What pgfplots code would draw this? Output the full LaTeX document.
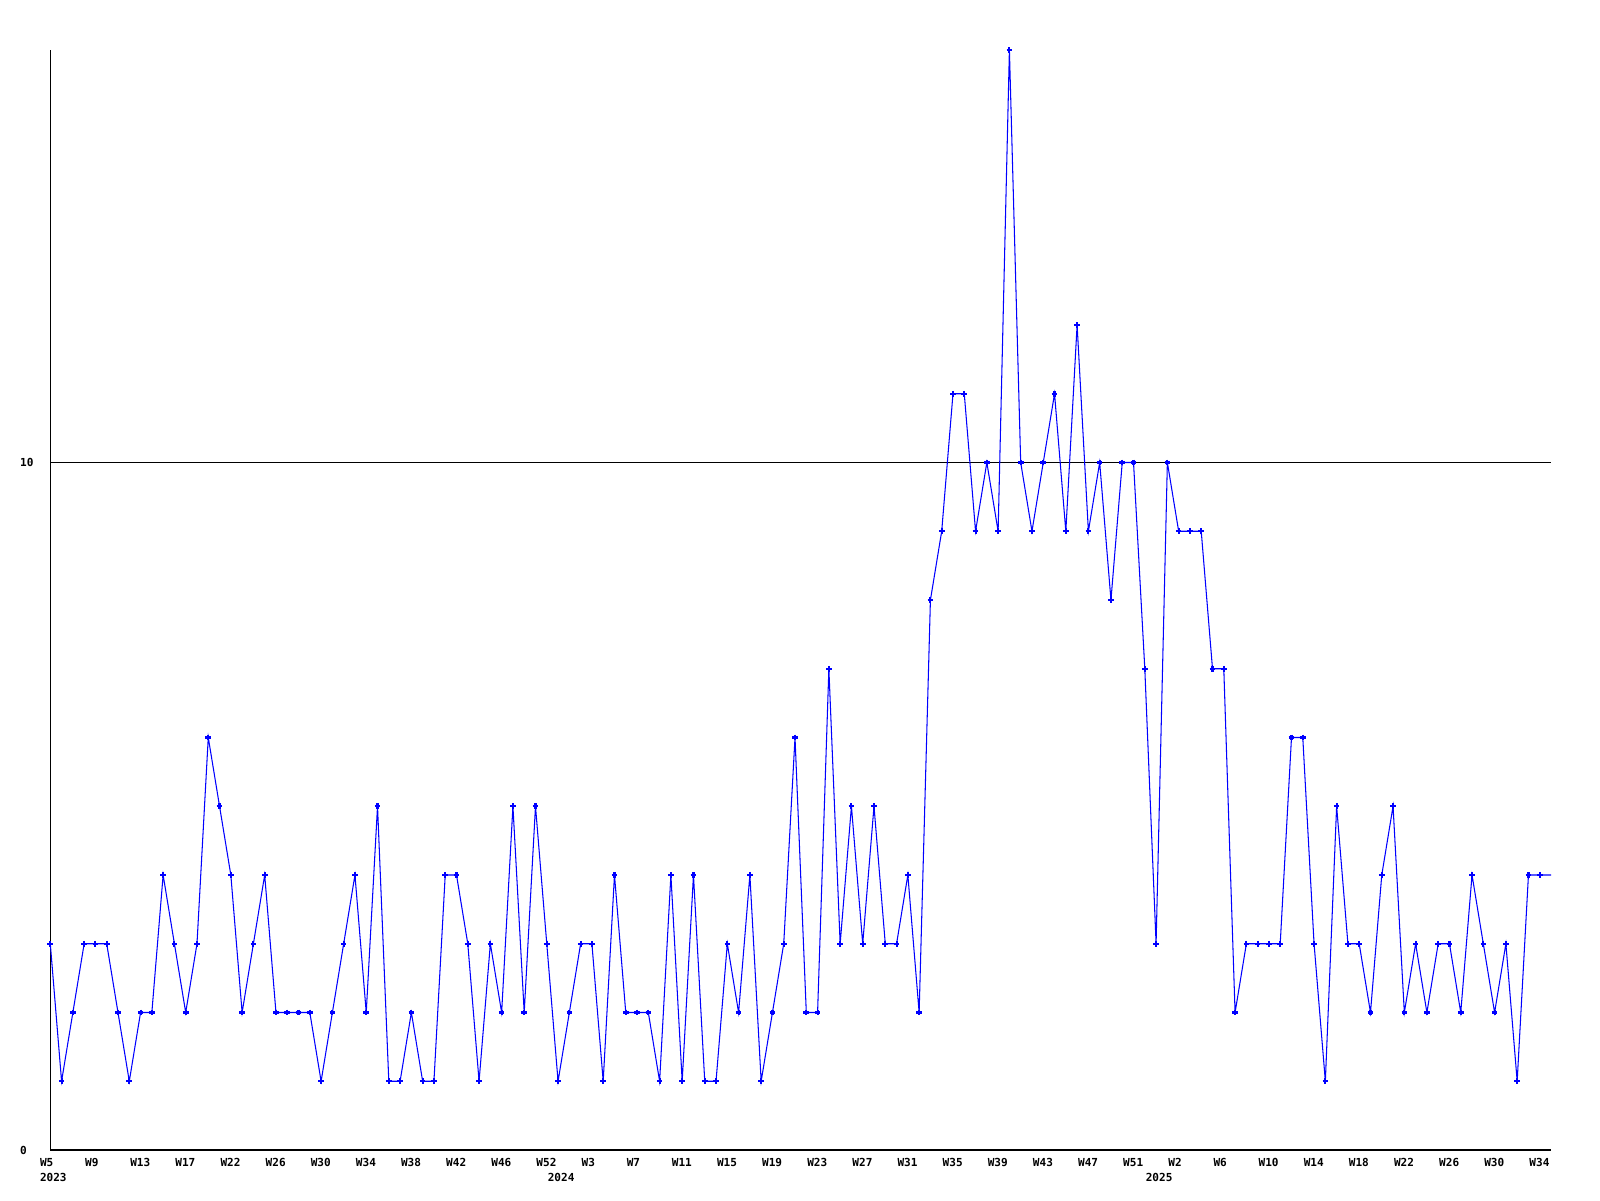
\documentclass[border=0pt]{standalone}
\usepackage{fontspec}
\setmonofont{DejaVu Sans Mono}
\usepackage{pgfplots}
\usepackage{pgfplotstable}
\pgfplotsset{compat=1.18}
\definecolor{lineblue}{RGB}{0,0,255}
\pgfplotstableread{
i v
0 3
1 1
2 2
3 3
4 3
5 3
6 2
7 1
8 2
9 2
10 4
11 3
12 2
13 3
14 6
15 5
16 4
17 2
18 3
19 4
20 2
21 2
22 2
23 2
24 1
25 2
26 3
27 4
28 2
29 5
30 1
31 1
32 2
33 1
34 1
35 4
36 4
37 3
38 1
39 3
40 2
41 5
42 2
43 5
44 3
45 1
46 2
47 3
48 3
49 1
50 4
51 2
52 2
53 2
54 1
55 4
56 1
57 4
58 1
59 1
60 3
61 2
62 4
63 1
64 2
65 3
66 6
67 2
68 2
69 7
70 3
71 5
72 3
73 5
74 3
75 3
76 4
77 2
78 8
79 9
80 11
81 11
82 9
83 10
84 9
85 16
86 10
87 9
88 10
89 11
90 9
91 12
92 9
93 10
94 8
95 10
96 10
97 7
98 3
99 10
100 9
101 9
102 9
103 7
104 7
105 2
106 3
107 3
108 3
109 3
110 6
111 6
112 3
113 1
114 5
115 3
116 3
117 2
118 4
119 5
120 2
121 3
122 2
123 3
124 3
125 2
126 4
127 3
128 2
129 3
130 1
131 4
132 4
133 4
}\datatable
\begin{document}
\begin{tikzpicture}
\path[use as bounding box] (0,0) rectangle (16cm,12cm);
\begin{axis}[
  at={(0.503cm,0.5cm)}, anchor=south west,
  scale only axis, width=15.007cm, height=11cm,
  xmin=0, xmax=133, ymin=0, ymax=16,
  axis lines*=left,
  axis line style={black, line width=0.3pt},
  major tick length=0pt,
  ytick={0,10}, yticklabels={0,10},
  ymajorgrids, grid style={black, line width=0.3pt},
  xtick={0,4,...,132},
  xticklabels={W5,W9,W13,W17,W22,W26,W30,W34,W38,W42,W46,W52,W3,W7,W11,W15,W19,W23,W27,W31,W35,W39,W43,W47,W51,W2,W6,W10,W14,W18,W22,W26,W30,W34},
  extra x ticks={0,45,98},
  extra x tick labels={2023,2024,2025},
  extra x tick style={xticklabel style={yshift=-0.15cm}},
  /pgf/number format/assume math mode=true,
  tick label style={font=\fontsize{3.15pt}{4pt}\selectfont\ttfamily\bfseries, inner sep=0pt},
  xticklabel style={anchor=north west, xshift=-0.11cm, yshift=-0.08cm},
  yticklabel style={anchor=west, xshift=-0.308cm},
  clip=false,
]
\addplot[lineblue, line width=0.3pt, mark=none] table[x=i,y=v]{\datatable};
\addplot[lineblue, only marks, mark=+, mark size=0.8pt, mark options={line width=0.6pt}, skip coords between index={133}{134}] table[x=i,y=v]{\datatable};
\end{axis}
\end{tikzpicture}
\end{document}
